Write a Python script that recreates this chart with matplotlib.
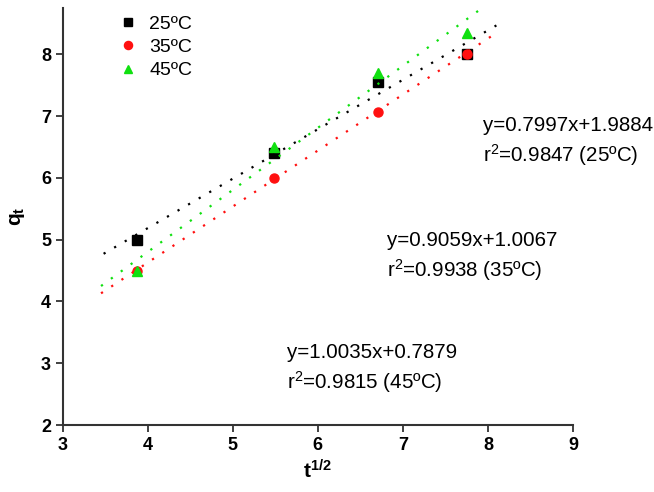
import matplotlib

matplotlib.use("Agg")
import matplotlib.pyplot as plt
import numpy as np

plt.rcParams["font.family"] = ["Liberation Sans", "DejaVu Sans"]
plt.rcParams["mathtext.fontset"] = "custom"
plt.rcParams["mathtext.rm"] = "Liberation Sans"
plt.rcParams["mathtext.it"] = "Liberation Sans"
plt.rcParams["mathtext.bf"] = "Liberation Sans:bold"

# sqrt(t) positions and q_t values
sqrt_t = [3.87, 5.48, 6.71, 7.75]
q_25 = [5.0, 6.4, 7.55, 8.0]
q_35 = [4.5, 6.0, 7.07, 8.0]
q_45 = [4.5, 6.5, 7.7, 8.35]

# linear fits as reported on the chart
slopes = [0.7997, 0.9059, 1.0035]
intercepts = [1.9884, 1.0067, 0.7879]
r2 = [0.9847, 0.9938, 0.9815]
labels = ["25ºC", "35ºC", "45ºC"]
fit_x0 = [3.48, 3.45, 3.45]
fit_x1 = [8.1, 8.1, 7.95]

colors = ["black", "#ff1010", "#10e010"]
markers = ["s", "o", "^"]
series = [q_25, q_35, q_45]

fig = plt.figure(figsize=(6.54, 4.92), dpi=100)
ax = fig.add_axes([0.096, 0.136, 0.78, 0.848])

for q, c, m, lab in zip(series, colors, markers, labels):
    ax.plot(sqrt_t, q, linestyle="none", marker=m, color=c, markersize=6.5, label=lab)

for a, b, x0, x1, c in zip(slopes, intercepts, fit_x0, fit_x1, colors):
    xs = np.array([x0, x1])
    ax.plot(xs, a * xs + b, linestyle=(0, (1, 4.5)), linewidth=1.6, color=c)

# equation annotations (x, y of first line)
text_pos = [(7.94, 6.85), (6.81, 4.99), (5.64, 3.18)]
for (tx, ty), a, b, r, lab in zip(text_pos, slopes, intercepts, r2, labels):
    ax.text(tx, ty, f"y={a:.4f}x+{b:.4f}", fontsize=14.8, va="center", clip_on=False)
    ax.text(tx, ty - 0.48, f"r$^2$={r:.4f} ({lab})", fontsize=14.8, va="center", clip_on=False)

ax.set_xlim(3, 9)
ax.set_ylim(2, 8.75)
ax.set_xticks(range(3, 10))
ax.set_yticks(range(2, 9))
for lbl in ax.get_xticklabels() + ax.get_yticklabels():
    lbl.set_fontweight("bold")
ax.tick_params(direction="out", length=5, width=1.3, labelsize=13, colors="#333333")
ax.tick_params(labelcolor="black")
for side in ["top", "right"]:
    ax.spines[side].set_visible(False)
for side in ["left", "bottom"]:
    ax.spines[side].set_linewidth(1.5)
    ax.spines[side].set_color("#333333")

ax.set_xlabel("t$^{\\mathbf{1/2}}$", fontsize=15, fontweight="bold", labelpad=4)
ax.set_ylabel("q$_\\mathbf{t}$", fontsize=15, fontweight="bold", labelpad=10)

ax.legend(loc="upper left", bbox_to_anchor=(0.07, 1.025), frameon=False, fontsize=14,
          handletextpad=0.5, labelspacing=0.3, handlelength=1.2, markerscale=0.9)

fig.savefig("out.png")
